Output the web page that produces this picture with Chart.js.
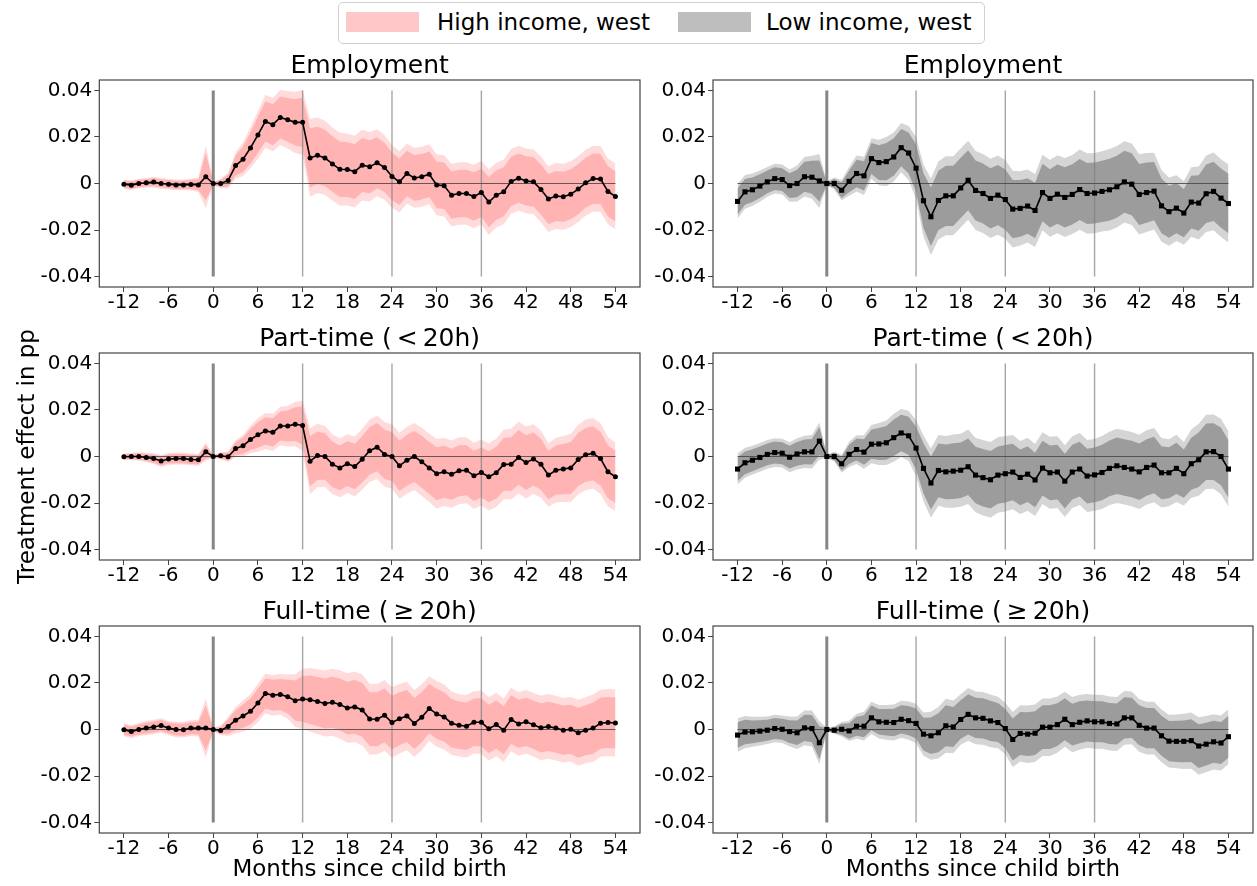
<!DOCTYPE html>
<html>
<head>
<meta charset="utf-8">
<script src="https://cdn.jsdelivr.net/npm/chart.js@4.4.1/dist/chart.umd.min.js"></script>
<style>
  body { margin: 0; width: 1257px; height: 886px; overflow: hidden; background: #fff; position: relative; font-family: "DejaVu Sans", sans-serif; }
  canvas { position: absolute; }
  #legend { position: absolute; left: 338px; top: 2px; width: 647px; height: 42px; border: 1px solid #d0d0d0; border-radius: 5px; box-sizing: border-box; }
  .swatch { position: absolute; top: 12px; width: 73px; height: 20px; }
  .label { position: absolute; top: 9px; font-size: 23px; line-height: 26px; color: #000; white-space: nowrap; }
</style>
</head>
<body>
<div id="legend"></div>
<div class="swatch" style="left:346px; background:#ffc8c8;"></div>
<div class="label" style="left:437px;">High income, west</div>
<div class="swatch" style="left:678px; background:#bebebe;"></div>
<div class="label" style="left:766px;">Low income, west</div>

<script>
// Months relative to child birth
const months = [-12, -11, -10, -9, -8, -7, -6, -5, -4, -3, -2, -1,
  0, 1, 2, 3, 4, 5, 6, 7, 8, 9, 10, 11, 12, 13, 14, 15, 16, 17, 18, 19, 20,
  21, 22, 23, 24, 25, 26, 27, 28, 29, 30, 31, 32, 33, 34, 35, 36, 37, 38, 39, 40,
  41, 42, 43, 44, 45, 46, 47, 48, 49, 50, 51, 52, 53, 54];
const monthTicks = [-12, -6, 0, 6, 12, 18, 24, 30, 36, 42, 48, 54];
const yTicks = [-0.04, -0.02, 0, 0.02, 0.04];
const birthMonth = 0;
const markerMonths = [12, 24, 36];
const refRange = [-0.04, 0.04];

// inner band = 95%, outer band = 99%
const zInner = 1.96;
const zOuter = 2.576;

// Employment, high income
const empHighEst = [-0.0003, -0.0007, 0.0000, 0.0003, 0.0006, 0.0000, -0.0003, -0.0006, -0.0006, -0.0004, -0.0006, 0.0029,
  0.0000, 0.0000, 0.0013, 0.0077, 0.0104, 0.0153, 0.0209, 0.0267, 0.0253, 0.0284, 0.0274, 0.0263, 0.0263,
  0.0110, 0.0121, 0.0110, 0.0084, 0.0061, 0.0060, 0.0051, 0.0079, 0.0072, 0.0089, 0.0069, 0.0030,
  0.0007, 0.0043, 0.0024, 0.0029, 0.0040, -0.0006, -0.0010, -0.0050, -0.0043, -0.0043, -0.0056, -0.0039,
  -0.0080, -0.0050, -0.0036, 0.0009, 0.0023, 0.0011, 0.0007, -0.0026, -0.0067, -0.0054, -0.0057, -0.0046,
  -0.0024, 0.0003, 0.0021, 0.0019, -0.0034, -0.0056];
const empHighSe = [0.0008, 0.0008, 0.0008, 0.0008, 0.0009, 0.0009, 0.0009, 0.0009, 0.0009, 0.0010, 0.0012, 0.0052,
  0.0003, 0.0008, 0.0013, 0.0022, 0.0028, 0.0034, 0.0040, 0.0044, 0.0045, 0.0046, 0.0048, 0.0051, 0.0054,
  0.0065, 0.0063, 0.0062, 0.0061, 0.0061, 0.0060, 0.0060, 0.0059, 0.0058, 0.0056, 0.0054, 0.0052,
  0.0051, 0.0050, 0.0050, 0.0050, 0.0050, 0.0051, 0.0051, 0.0052, 0.0052, 0.0052, 0.0053, 0.0053,
  0.0055, 0.0054, 0.0054, 0.0054, 0.0054, 0.0054, 0.0054, 0.0055, 0.0055, 0.0055, 0.0055, 0.0055,
  0.0055, 0.0055, 0.0055, 0.0055, 0.0055, 0.0055];

// Employment, low income
const empLowEst = [-0.0077, -0.0036, -0.0027, -0.0011, 0.0007, 0.0021, 0.0017, -0.0009, 0.0000, 0.0029, 0.0027, 0.0011,
  0.0000, 0.0000, -0.0029, 0.0009, 0.0043, 0.0033, 0.0107, 0.0090, 0.0094, 0.0114, 0.0154, 0.0131, 0.0066,
  -0.0074, -0.0143, -0.0073, -0.0053, -0.0053, -0.0019, 0.0014, -0.0030, -0.0043, -0.0064, -0.0050, -0.0069,
  -0.0110, -0.0107, -0.0097, -0.0116, -0.0039, -0.0064, -0.0046, -0.0060, -0.0047, -0.0026, -0.0043, -0.0041,
  -0.0034, -0.0027, -0.0014, 0.0007, -0.0003, -0.0047, -0.0039, -0.0033, -0.0096, -0.0121, -0.0106, -0.0127,
  -0.0080, -0.0084, -0.0044, -0.0034, -0.0063, -0.0086];
const empLowSe = [0.0029, 0.0028, 0.0027, 0.0026, 0.0025, 0.0025, 0.0025, 0.0027, 0.0030, 0.0033, 0.0036, 0.0045,
  0.0003, 0.0010, 0.0017, 0.0024, 0.0030, 0.0032, 0.0034, 0.0038, 0.0041, 0.0041, 0.0041, 0.0045, 0.0052,
  0.0060, 0.0064, 0.0065, 0.0066, 0.0066, 0.0066, 0.0066, 0.0066, 0.0066, 0.0066, 0.0066, 0.0066,
  0.0064, 0.0062, 0.0061, 0.0061, 0.0063, 0.0064, 0.0065, 0.0066, 0.0066, 0.0067, 0.0067, 0.0067,
  0.0067, 0.0068, 0.0068, 0.0068, 0.0068, 0.0067, 0.0066, 0.0064, 0.0060, 0.0057, 0.0055, 0.0053,
  0.0058, 0.0061, 0.0064, 0.0065, 0.0065, 0.0065];

// Part-time (< 20h), high income
const ptHighEst = [-0.0001, 0.0000, 0.0000, -0.0004, -0.0009, -0.0019, -0.0011, -0.0009, -0.0009, -0.0013, -0.0014, 0.0020,
  0.0000, 0.0003, -0.0001, 0.0034, 0.0046, 0.0073, 0.0093, 0.0110, 0.0104, 0.0131, 0.0131, 0.0139, 0.0133,
  -0.0020, 0.0004, 0.0000, -0.0033, -0.0049, -0.0031, -0.0043, -0.0012, 0.0025, 0.0040, 0.0009, 0.0000,
  -0.0040, -0.0016, 0.0000, -0.0023, -0.0049, -0.0074, -0.0066, -0.0076, -0.0061, -0.0059, -0.0083, -0.0069,
  -0.0087, -0.0070, -0.0034, -0.0033, -0.0004, -0.0026, -0.0011, -0.0033, -0.0080, -0.0059, -0.0054, -0.0049,
  -0.0013, 0.0007, 0.0014, -0.0009, -0.0066, -0.0087];
const ptHighSe = [0.0006, 0.0006, 0.0007, 0.0008, 0.0009, 0.0010, 0.0010, 0.0010, 0.0010, 0.0010, 0.0010, 0.0015,
  0.0002, 0.0006, 0.0009, 0.0014, 0.0018, 0.0023, 0.0028, 0.0030, 0.0031, 0.0032, 0.0034, 0.0037, 0.0042,
  0.0055, 0.0053, 0.0051, 0.0050, 0.0049, 0.0049, 0.0050, 0.0051, 0.0052, 0.0053, 0.0054, 0.0054,
  0.0055, 0.0056, 0.0056, 0.0057, 0.0057, 0.0058, 0.0057, 0.0056, 0.0056, 0.0055, 0.0055, 0.0055,
  0.0056, 0.0057, 0.0058, 0.0059, 0.0060, 0.0060, 0.0058, 0.0056, 0.0053, 0.0054, 0.0055, 0.0057,
  0.0058, 0.0059, 0.0059, 0.0059, 0.0058, 0.0057];

// Part-time (< 20h), low income
const ptLowEst = [-0.0054, -0.0027, -0.0016, -0.0004, 0.0009, 0.0017, 0.0014, -0.0003, 0.0011, 0.0020, 0.0020, 0.0066,
  0.0000, 0.0000, -0.0031, 0.0009, 0.0030, 0.0019, 0.0053, 0.0054, 0.0059, 0.0081, 0.0101, 0.0089, 0.0036,
  -0.0051, -0.0114, -0.0060, -0.0066, -0.0063, -0.0059, -0.0044, -0.0080, -0.0091, -0.0100, -0.0080, -0.0074,
  -0.0067, -0.0090, -0.0076, -0.0101, -0.0050, -0.0070, -0.0067, -0.0106, -0.0067, -0.0054, -0.0084, -0.0079,
  -0.0069, -0.0051, -0.0040, -0.0047, -0.0054, -0.0066, -0.0047, -0.0037, -0.0070, -0.0070, -0.0051, -0.0074,
  -0.0031, -0.0014, 0.0020, 0.0021, 0.0000, -0.0054];
const ptLowSe = [0.0026, 0.0025, 0.0024, 0.0024, 0.0024, 0.0024, 0.0024, 0.0025, 0.0026, 0.0027, 0.0028, 0.0031,
  0.0003, 0.0008, 0.0015, 0.0021, 0.0024, 0.0028, 0.0032, 0.0035, 0.0037, 0.0040, 0.0040, 0.0042, 0.0047,
  0.0055, 0.0058, 0.0059, 0.0060, 0.0061, 0.0061, 0.0062, 0.0062, 0.0063, 0.0063, 0.0063, 0.0063,
  0.0062, 0.0061, 0.0061, 0.0060, 0.0060, 0.0060, 0.0060, 0.0060, 0.0060, 0.0060, 0.0060, 0.0060,
  0.0061, 0.0061, 0.0062, 0.0062, 0.0062, 0.0062, 0.0062, 0.0062, 0.0058, 0.0056, 0.0056, 0.0053,
  0.0057, 0.0060, 0.0062, 0.0062, 0.0063, 0.0063];

// Full-time (>= 20h), high income
const ftHighEst = [-0.0001, -0.0009, 0.0000, 0.0006, 0.0011, 0.0017, 0.0006, 0.0000, -0.0001, 0.0006, 0.0006, 0.0006,
  0.0000, -0.0004, 0.0013, 0.0040, 0.0058, 0.0078, 0.0114, 0.0155, 0.0147, 0.0151, 0.0141, 0.0124, 0.0131,
  0.0128, 0.0120, 0.0112, 0.0117, 0.0108, 0.0092, 0.0097, 0.0084, 0.0045, 0.0044, 0.0061, 0.0030,
  0.0046, 0.0058, 0.0026, 0.0053, 0.0090, 0.0067, 0.0054, 0.0027, 0.0018, 0.0014, 0.0031, 0.0031,
  0.0003, 0.0021, -0.0003, 0.0043, 0.0024, 0.0033, 0.0020, 0.0007, 0.0013, 0.0006, -0.0003, 0.0001,
  -0.0014, -0.0003, 0.0006, 0.0027, 0.0030, 0.0028];
const ftHighSe = [0.0011, 0.0011, 0.0011, 0.0012, 0.0012, 0.0012, 0.0012, 0.0013, 0.0013, 0.0013, 0.0014, 0.0049,
  0.0003, 0.0008, 0.0016, 0.0022, 0.0026, 0.0029, 0.0032, 0.0033, 0.0034, 0.0034, 0.0037, 0.0044, 0.0050,
  0.0053, 0.0054, 0.0055, 0.0056, 0.0057, 0.0058, 0.0059, 0.0059, 0.0059, 0.0059, 0.0059, 0.0059,
  0.0058, 0.0057, 0.0056, 0.0055, 0.0054, 0.0055, 0.0054, 0.0053, 0.0052, 0.0052, 0.0052, 0.0053,
  0.0053, 0.0053, 0.0053, 0.0053, 0.0053, 0.0053, 0.0053, 0.0054, 0.0054, 0.0054, 0.0054, 0.0054,
  0.0055, 0.0055, 0.0056, 0.0056, 0.0056, 0.0056];

// Full-time (>= 20h), low income
const ftLowEst = [-0.0024, -0.0011, -0.0010, -0.0007, -0.0003, 0.0004, 0.0001, -0.0009, -0.0014, 0.0007, 0.0004, -0.0057,
  0.0000, -0.0003, 0.0001, -0.0006, 0.0014, 0.0014, 0.0050, 0.0033, 0.0031, 0.0030, 0.0044, 0.0038, 0.0026,
  -0.0020, -0.0027, -0.0014, 0.0016, 0.0011, 0.0043, 0.0065, 0.0050, 0.0048, 0.0037, 0.0030, 0.0004,
  -0.0043, -0.0017, -0.0020, -0.0016, 0.0010, 0.0010, 0.0021, 0.0044, 0.0021, 0.0031, 0.0037, 0.0033,
  0.0033, 0.0026, 0.0024, 0.0050, 0.0050, 0.0018, 0.0006, 0.0006, -0.0027, -0.0050, -0.0051, -0.0051,
  -0.0048, -0.0071, -0.0063, -0.0053, -0.0058, -0.0031];
const ftLowSe = [0.0028, 0.0027, 0.0025, 0.0024, 0.0023, 0.0023, 0.0023, 0.0025, 0.0027, 0.0029, 0.0030, 0.0036,
  0.0003, 0.0006, 0.0012, 0.0017, 0.0021, 0.0024, 0.0027, 0.0028, 0.0029, 0.0030, 0.0031, 0.0032, 0.0033,
  0.0036, 0.0040, 0.0043, 0.0045, 0.0044, 0.0042, 0.0044, 0.0044, 0.0044, 0.0044, 0.0043, 0.0043,
  0.0046, 0.0047, 0.0048, 0.0048, 0.0048, 0.0048, 0.0047, 0.0046, 0.0046, 0.0046, 0.0045, 0.0045,
  0.0045, 0.0045, 0.0045, 0.0045, 0.0044, 0.0044, 0.0044, 0.0044, 0.0044, 0.0044, 0.0045, 0.0046,
  0.0047, 0.0048, 0.0047, 0.0046, 0.0046, 0.0046];

Chart.defaults.font.family = "'DejaVu Sans', sans-serif";
Chart.defaults.color = '#000';

const styles = {
  high: { outer: '#ffdbdb', inner: '#ffb3b3', pointStyle: 'circle', radius: 2.5 },
  low:  { outer: '#d5d5d5', inner: '#9c9c9c', pointStyle: 'rect', radius: 3.6 }
};

// layout of the 2x3 grid
const colLeft = [0, 640];
const colWidth = [644, 617];
const yAxisWidth = [99.3, 73];
const rowTop = [52, 325, 598];
const titleH = 28;
const plotH = 207;
const xAxisH = [38, 38, 51];

const panels = [
  { title: 'Employment', est: empHighEst, se: empHighSe, style: 'high', row: 0, col: 0 },
  { title: 'Employment', est: empLowEst, se: empLowSe, style: 'low', row: 0, col: 1 },
  { title: 'Part-time (\u2009<\u200920h)', est: ptHighEst, se: ptHighSe, style: 'high', row: 1, col: 0 },
  { title: 'Part-time (\u2009<\u200920h)', est: ptLowEst, se: ptLowSe, style: 'low', row: 1, col: 1 },
  { title: 'Full-time (\u2009\u2265\u200920h)', est: ftHighEst, se: ftHighSe, style: 'high', row: 2, col: 0 },
  { title: 'Full-time (\u2009\u2265\u200920h)', est: ftLowEst, se: ftLowSe, style: 'low', row: 2, col: 1 }
];

// full box around each plot
const framePlugin = {
  id: 'frame',
  afterDatasetsDraw(chart) {
    const { ctx, chartArea: a } = chart;
    ctx.save();
    ctx.strokeStyle = '#444';
    ctx.lineWidth = 1.2;
    ctx.strokeRect(a.left, a.top, a.right - a.left, a.bottom - a.top);
    ctx.restore();
  }
};

function band(est, se, z, sign) {
  return months.map((m, i) => ({ x: m, y: est[i] + sign * z * se[i] }));
}

function refLine(x0, x1, y0, y1, color, width) {
  return {
    data: [{ x: x0, y: y0 }, { x: x1, y: y1 }],
    borderColor: color, borderWidth: width, pointRadius: 0, fill: false, order: 1
  };
}

function makePanel(p) {
  const st = styles[p.style];
  const w = colWidth[p.col];
  const h = titleH + plotH + xAxisH[p.row];
  const canvas = document.createElement('canvas');
  canvas.width = w;
  canvas.height = h;
  canvas.style.left = colLeft[p.col] + 'px';
  canvas.style.top = rowTop[p.row] + 'px';
  canvas.style.width = w + 'px';
  canvas.style.height = h + 'px';
  document.body.appendChild(canvas);

  const datasets = [
    { data: band(p.est, p.se, zOuter, 1), borderWidth: 0, pointRadius: 0, fill: '+1', backgroundColor: st.outer, order: 3 },
    { data: band(p.est, p.se, zOuter, -1), borderWidth: 0, pointRadius: 0, fill: false, order: 3 },
    { data: band(p.est, p.se, zInner, 1), borderWidth: 0, pointRadius: 0, fill: '+1', backgroundColor: st.inner, order: 2 },
    { data: band(p.est, p.se, zInner, -1), borderWidth: 0, pointRadius: 0, fill: false, order: 2 },
    refLine(months[0], months[months.length - 1], 0, 0, 'rgba(70,70,70,0.85)', 1),
    refLine(birthMonth, birthMonth, refRange[0], refRange[1], 'rgba(128,128,128,0.95)', 3)
  ];
  markerMonths.forEach(m => datasets.push(refLine(m, m, refRange[0], refRange[1], 'rgba(128,128,128,0.7)', 1.4)));
  datasets.push({
    data: months.map((m, i) => ({ x: m, y: p.est[i] })),
    borderColor: '#000', borderWidth: 1.6, tension: 0, fill: false,
    pointStyle: st.pointStyle, pointRadius: st.radius, pointBackgroundColor: '#000', pointBorderWidth: 0,
    order: 0
  });

  const isBottom = p.row === 2;
  const showYTitle = p.row === 1 && p.col === 0;

  new Chart(canvas, {
    type: 'line',
    data: { datasets },
    plugins: [framePlugin],
    options: {
      responsive: false,
      animation: false,
      events: [],
      layout: { padding: 0 },
      plugins: {
        legend: { display: false },
        tooltip: { enabled: false },
        title: { display: true, fullSize: false, text: p.title, color: '#000', padding: 0, font: { size: 25, weight: 'normal', lineHeight: '28px' } }
      },
      scales: {
        x: {
          type: 'linear', min: -15.3, max: 57.3,
          afterBuildTicks: s => { s.ticks = monthTicks.map(v => ({ value: v })); },
          afterFit: s => { s.height = xAxisH[p.row]; },
          grid: { drawOnChartArea: false, drawTicks: true, tickLength: 5, tickColor: '#444' },
          border: { display: false },
          ticks: { font: { size: 20 }, color: '#000', padding: -1, maxRotation: 0, autoSkip: false, callback: v => String(v) },
          title: { display: isBottom, text: 'Months since child birth', color: '#000', font: { size: 23 }, padding: { top: 0, bottom: 0 } }
        },
        y: {
          type: 'linear', min: -0.0445, max: 0.0445,
          afterBuildTicks: s => { s.ticks = yTicks.map(v => ({ value: v })); },
          afterFit: s => { s.width = yAxisWidth[p.col]; },
          grid: { drawOnChartArea: false, drawTicks: true, tickLength: 5, tickColor: '#444' },
          border: { display: false },
          ticks: { font: { size: 20 }, color: '#000', padding: 2, callback: v => (v === 0 ? '0' : v.toFixed(2)) },
          title: { display: showYTitle, text: 'Treatment effect in pp', color: '#000', font: { size: 23 }, padding: { top: 14, bottom: 0 } }
        }
      }
    }
  });
}

panels.forEach(makePanel);
</script>
</body>
</html>
